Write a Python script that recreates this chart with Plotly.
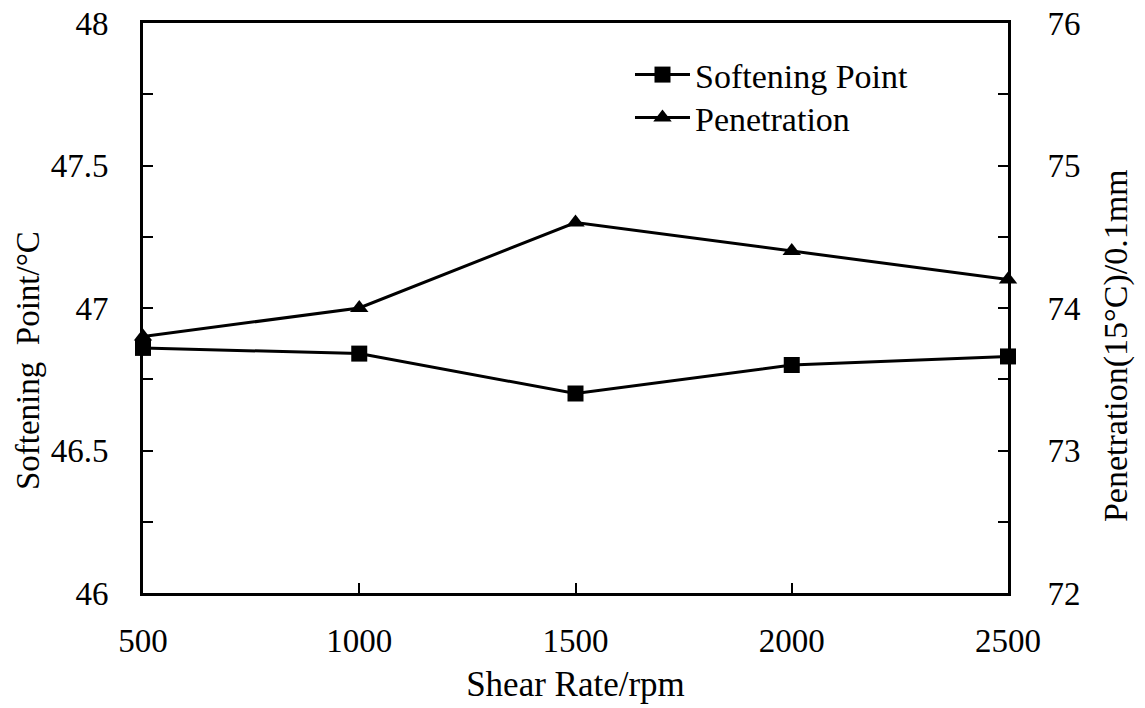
import plotly.graph_objects as go

shear_rate = [500, 1000, 1500, 2000, 2500]
softening_point = [46.86, 46.84, 46.70, 46.80, 46.83]
penetration = [73.8, 74.0, 74.6, 74.4, 74.2]

FONT = "Liberation Serif, Times New Roman, serif"

fig = go.Figure()
fig.add_trace(go.Scatter(
    x=shear_rate, y=softening_point, name="Softening Point",
    mode="lines+markers", legend="legend",
    line=dict(color="black", width=3),
    marker=dict(symbol="square", size=16, color="black"),
    cliponaxis=False,
))
fig.add_trace(go.Scatter(
    x=shear_rate, y=penetration, name="Penetration", yaxis="y2",
    mode="lines+markers", legend="legend2",
    line=dict(color="black", width=3),
    marker=dict(symbol="triangle-up", size=16, color="black"),
    cliponaxis=False,
))

axis_common = dict(
    showgrid=False, zeroline=False, showline=True, linecolor="black", linewidth=3,
    ticks="inside", ticklen=10, tickwidth=2, tickcolor="black", automargin=False,
    tickfont=dict(family=FONT, size=33, color="black"),
)

legend_common = dict(
    xanchor="left", yanchor="middle",
    font=dict(family=FONT, size=34, color="black"),
    bgcolor="rgba(0,0,0,0)", itemwidth=55,
)

fig.update_layout(
    width=1145, height=708,
    margin=dict(l=143, r=137, t=23, b=115, autoexpand=False),
    paper_bgcolor="white", plot_bgcolor="white",
    font=dict(family=FONT, color="black"),
    showlegend=True,
    legend=dict(**legend_common, x=0.563, y=0.9088),
    legend2=dict(**legend_common, x=0.563, y=0.8333),
    xaxis=dict(
        **axis_common, range=[500, 2500], tickmode="linear", tick0=500, dtick=500,
        mirror=True, ticklabelstandoff=16,
        title=dict(text="Shear Rate/rpm", font=dict(family=FONT, size=35, color="black"), standoff=14),
    ),
    yaxis=dict(
        **axis_common, range=[46, 48], tickmode="linear", tick0=46, dtick=0.5,
        minor=dict(dtick=0.25, ticks="inside", ticklen=10, tickwidth=2, tickcolor="black"),
        ticklabelstandoff=25,
    ),
    yaxis2=dict(
        **axis_common, range=[72, 76], tickmode="linear", tick0=72, dtick=1,
        overlaying="y", side="right",
        minor=dict(dtick=0.5, ticks="inside", ticklen=10, tickwidth=2, tickcolor="black"),
        ticklabelstandoff=30,
    ),
    annotations=[
        dict(text="Softening\u00a0 Point/°C", xref="paper", yref="paper",
             x=-0.1329, y=0.407, xanchor="center", yanchor="middle",
             textangle=-90, showarrow=False,
             font=dict(family=FONT, size=33, color="black")),
        dict(text="Penetration(15°C)/0.1mm", xref="paper", yref="paper",
             x=1.1249, y=0.4333, xanchor="center", yanchor="middle",
             textangle=-90, showarrow=False,
             font=dict(family=FONT, size=34, color="black")),
    ],
)

fig.write_html("out.html")
